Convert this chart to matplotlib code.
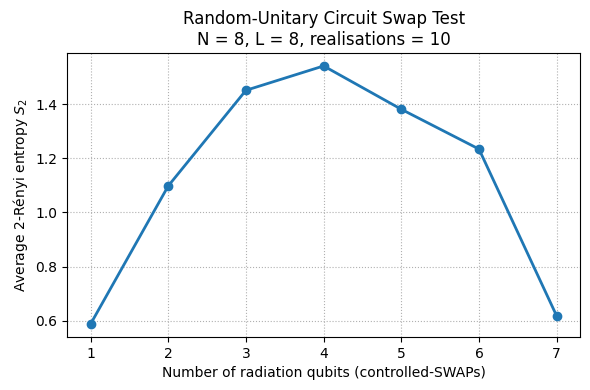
import matplotlib
matplotlib.use('Agg')
import matplotlib.pyplot as plt

# 受控SWAP数 vs 平均二阶Rényi熵
n_rad = [1, 2, 3, 4, 5, 6, 7]
s2_avg = [0.588, 1.098, 1.451, 1.541, 1.381, 1.234, 0.618]

fig, ax = plt.subplots(figsize=(5.9, 3.9), dpi=100)
ax.plot(n_rad, s2_avg, marker='o', linewidth=2, color='#1f77b4')
ax.set_xlabel('Number of radiation qubits (controlled-SWAPs)')
ax.set_ylabel('Average 2-Rényi entropy $S_2$')
ax.set_title('Random-Unitary Circuit Swap Test\nN = 8, L = 8, realisations = 10')
ax.set_xticks(n_rad)
ax.grid(True, linestyle=':')

fig.subplots_adjust(left=0.114, right=0.983, top=0.864, bottom=0.136)
plt.savefig('out.png', dpi=100)
plt.close()
